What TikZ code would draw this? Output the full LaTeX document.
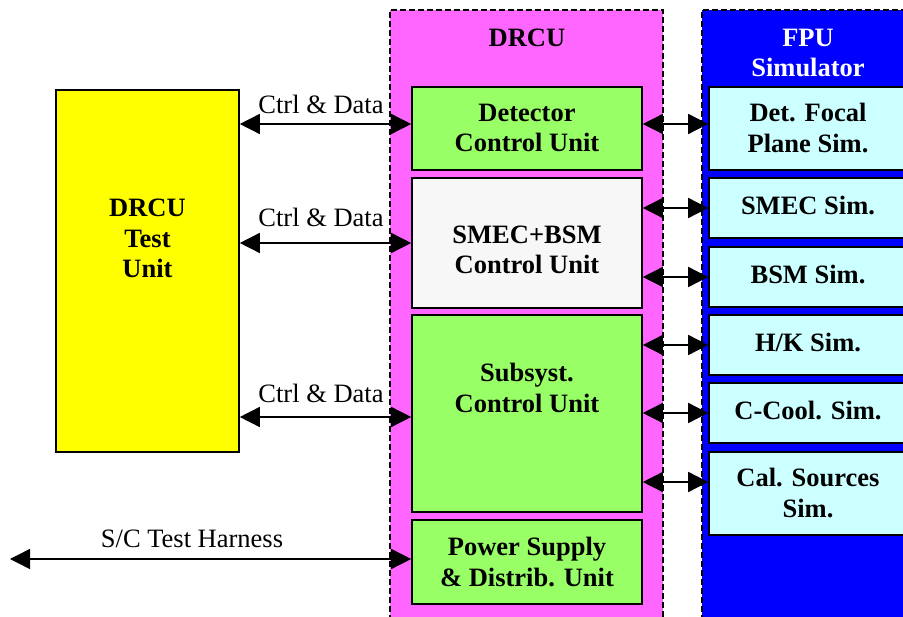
\documentclass[tikz,border=0pt]{standalone}
\usepackage{fontspec}
\setmainfont{Liberation Serif}
\usetikzlibrary{arrows.meta,calc}
\definecolor{magreg}{RGB}{255,102,255}
\definecolor{grnbox}{RGB}{153,255,102}
\definecolor{graybox}{RGB}{247,247,247}
\definecolor{cyanbox}{RGB}{204,255,255}
\definecolor{bluereg}{RGB}{0,0,255}
\definecolor{yelbox}{RGB}{255,255,0}
\tikzset{
  region/.style={draw=black, line width=1.6pt, dash pattern=on 6pt off 3pt},
  unitbox/.style={draw=black, line width=1.6pt, rectangle, inner sep=0pt, align=center,
     font=\fontsize{26.5}{30.5}\selectfont\bfseries},
  txt/.style={inner sep=0pt, align=center, font=\fontsize{26.5}{30.5}\selectfont\bfseries},
  lbl/.style={inner sep=0pt, font=\fontsize{26.5}{30.5}\selectfont},
  link/.style={line width=1.5pt, {Triangle[length=20pt,width=20pt]}-{Triangle[length=20pt,width=20pt]}}
}
\begin{document}
\begin{tikzpicture}[x=1pt,y=-1pt]
\path[use as bounding box, clip] (0,0) rectangle (903,617);
% regions
\fill[magreg] (390,10) rectangle (663,630);
\draw[region] (390,630) -- (390,10) -- (663,10) -- (663,630);
\fill[bluereg] (702,10) rectangle (920,630);
\draw[region] (702,630) -- (702,10) -- (920,10);
\node[txt] (drcutitle) at (527,38) {DRCU};
\node[txt, text=white] (fputitle) at (808,53) {FPU\\Simulator};
% test unit
\node[unitbox, fill=yelbox, minimum width=183pt, minimum height=362pt] (dtu) at (147.5,271) {};
\node[txt] (dtutext) at (147.5,238.5) {DRCU\\Test\\Unit};
% DRCU units
\node[unitbox, fill=grnbox, minimum width=230pt, minimum height=83pt] (dcu) at (527,128.5) {};
\node[txt] (dcutext) at (527,128) {Detector\\Control Unit};
\node[unitbox, fill=graybox, minimum width=230pt, minimum height=130pt] (smec) at (527,243) {};
\node[txt] (smectext) at (527,250) {SMEC+BSM\\Control Unit};
\node[unitbox, fill=grnbox, minimum width=230pt, minimum height=197pt] (sub) at (527,413.5) {};
\node[txt] (subtext) at (527,388) {Subsyst.\\Control Unit};
\node[unitbox, fill=grnbox, minimum width=230pt, minimum height=84pt] (pow) at (527,562) {};
\node[txt] (powtext) at (527,562) {Power Supply\\\& Distrib. Unit};
% FPU simulator boxes
\node[unitbox, fill=cyanbox, minimum width=198pt, minimum height=83pt] (focal) at (808,128.5) {};
\node[txt] (focaltext) at (808,128) {Det. Focal\\Plane Sim.};
\node[unitbox, fill=cyanbox, minimum width=198pt, minimum height=60pt] (smecsim) at (808,208) {};
\node[txt] (smecsimtext) at (808,205) {SMEC Sim.};
\node[unitbox, fill=cyanbox, minimum width=198pt, minimum height=60pt] (bsm) at (808,277) {};
\node[txt] (bsmtext) at (808,274) {BSM Sim.};
\node[unitbox, fill=cyanbox, minimum width=198pt, minimum height=60pt] (hk) at (808,345) {};
\node[txt] (hktext) at (808,342) {H/K Sim.};
\node[unitbox, fill=cyanbox, minimum width=198pt, minimum height=60pt] (ccool) at (808,413) {};
\node[txt] (ccooltext) at (808,410) {C-Cool. Sim.};
\node[unitbox, fill=cyanbox, minimum width=198pt, minimum height=83pt] (cal) at (808,493.5) {};
\node[txt] (caltext) at (808,493) {Cal. Sources\\Sim.};
% helper coordinates
\coordinate (dcuin) at ([yshift=4.5pt]dcu.west);
\coordinate (subin) at ([yshift=-3.5pt]sub.west);
\coordinate (powin) at ([yshift=3pt]pow.west);
\coordinate (harness) at (10,559);
\coordinate (focalin) at ([yshift=4.5pt]focal.west);
\coordinate (calin) at ([yshift=11.5pt]cal.west);
% left connectors
\draw[link] (dtu.east |- dcuin) -- (dcuin);
\draw[link] (dtu.east |- smec.west) -- (smec.west);
\draw[link] (dtu.east |- subin) -- (subin);
\draw[link] (harness) -- (powin);
\node[lbl] (l1) at (321,104) {Ctrl \& Data};
\node[lbl] (l2) at (321,217) {Ctrl \& Data};
\node[lbl] (l3) at (321,393) {Ctrl \& Data};
\node[lbl] (l4) at (192,539) {S/C Test Harness};
% right connectors
\draw[link] (dcu.east |- focalin) -- (focalin);
\draw[link] (smec.east |- smecsim.west) -- (smecsim.west);
\draw[link] (smec.east |- bsm.west) -- (bsm.west);
\draw[link] (sub.east |- hk.west) -- (hk.west);
\draw[link] (sub.east |- ccool.west) -- (ccool.west);
\draw[link] (sub.east |- calin) -- (calin);
\end{tikzpicture}
\end{document}
